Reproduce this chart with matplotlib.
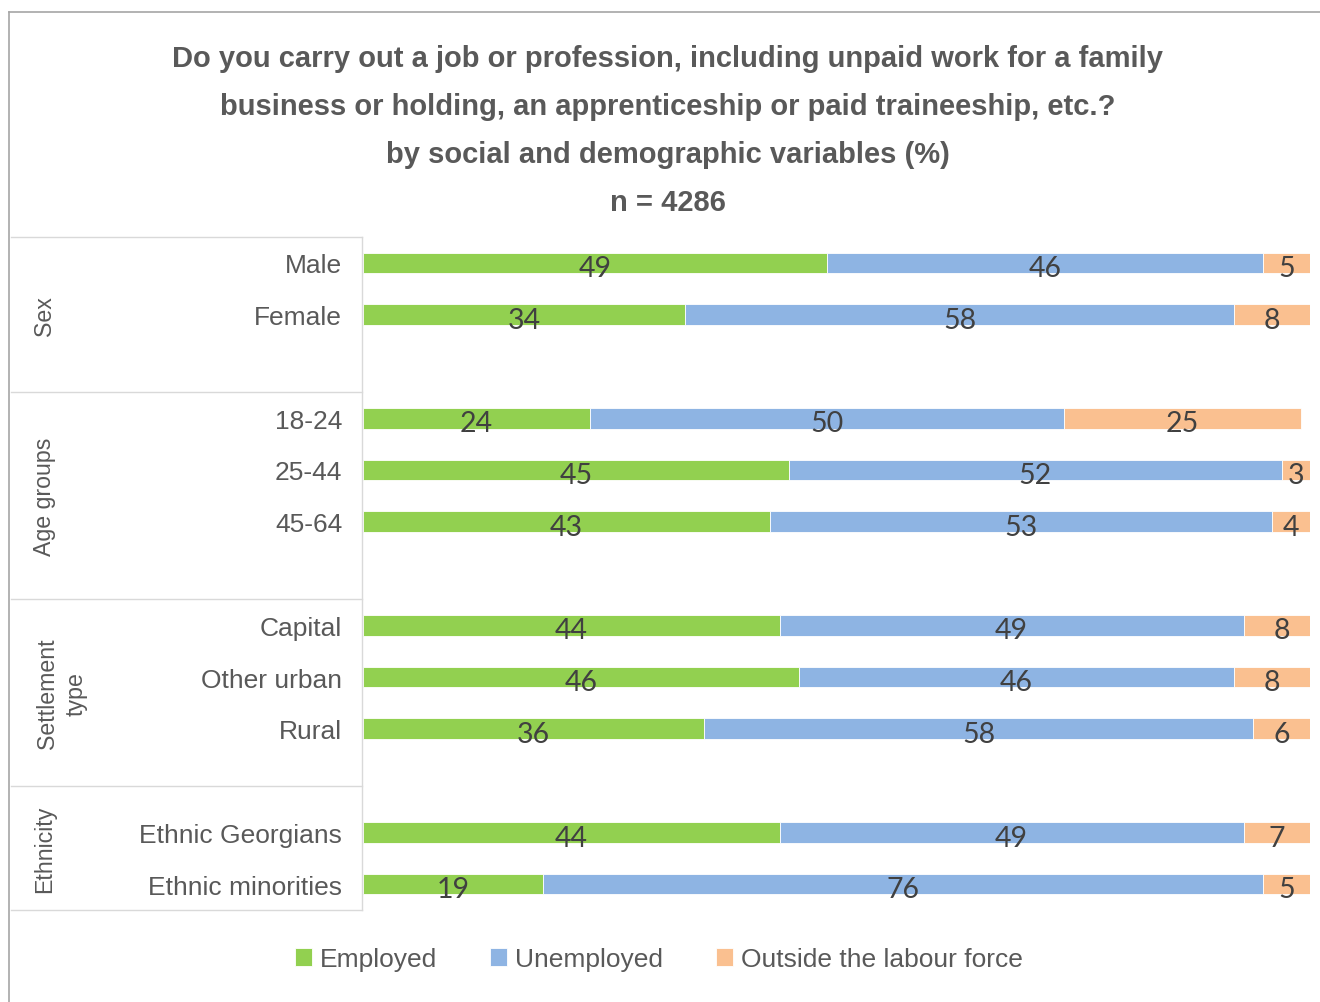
import numpy as np
import matplotlib.pyplot as plt
import matplotlib.transforms as mtransforms

################################################################################
## Data - employment status by social and demographic variables (%)
################################################################################

categories = ["Male", "Female", "18-24", "25-44", "45-64",
              "Capital", "Other urban", "Rural",
              "Ethnic Georgians", "Ethnic minorities"]
employed = [49, 34, 24, 45, 43, 44, 46, 36, 44, 19]
unemployed = [46, 58, 50, 52, 53, 49, 46, 58, 49, 76]
outside = [5, 8, 25, 3, 4, 8, 8, 6, 7, 5]

series_names = ["Employed", "Unemployed", "Outside the labour force"]
series_colors = ["#92D050", "#8EB4E3", "#FAC090"]

group_names = ["Sex", "Age groups", "Settlement\ntype", "Ethnicity"]
group_edges = [-0.5, 2.5, 6.5, 10.1, 12.5]

# row slots, with an empty slot between the groups
row_pos = [0, 1, 3, 4, 5, 7, 8, 9, 11, 12]

title_lines = [
    "Do you carry out a job or profession, including unpaid work for a family",
    "business or holding, an apprenticeship or paid traineeship, etc.?",
    "by social and demographic variables (%)",
    "n = 4286",
]

W, H = 1320, 1003
fig = plt.figure(figsize=(W / 100, H / 100), dpi=100)
ax = fig.add_axes([363 / W, 1 - 911 / H, 947 / W, 673 / H])

text_grey = "#595959"
line_grey = "#d9d9d9"

## Stacked bars
left = np.zeros(len(categories))
for vals, name, col in zip([employed, unemployed, outside], series_names, series_colors):
    vals = np.array(vals, dtype=float)
    ax.barh(row_pos, vals, left=left, height=0.4, color=col,
            edgecolor="white", linewidth=0.6, label=name)
    for y, l, v in zip(row_pos, left, vals):
        ax.text(l + v / 2, y + 0.1, f"{int(v)}", ha="center", va="center",
                fontsize=20.5, color="#404040", family="Lato")
    left += vals

ax.set_xlim(0, 100)
ax.set_ylim(12.5, -0.5)
ax.set_yticks(row_pos)
ax.set_yticklabels(categories, fontsize=19, color=text_grey, family="Liberation Sans")
ax.tick_params(axis="y", length=0, pad=15)
ax.set_xticks([])
for s in ax.spines.values():
    s.set_visible(False)

## Group boxes on the left
trans = mtransforms.blended_transform_factory(fig.transFigure, ax.transData)
for e in group_edges:
    ax.plot([11 / W, 362 / W], [e, e], transform=trans, color=line_grey,
            lw=1, clip_on=False)
ax.plot([362 / W, 362 / W], [group_edges[0], group_edges[-1]], transform=trans,
        color=line_grey, lw=1, clip_on=False)
for name, lo, hi in zip(group_names, group_edges[:-1], group_edges[1:]):
    xg = 62 / W if "\n" in name else 45 / W
    ax.text(xg, (lo + hi) / 2, name, transform=trans, rotation=90,
            ha="center", va="center", multialignment="center",
            fontsize=16.7, color=text_grey, family="Liberation Sans",
            linespacing=1.3)

## Outer frame (top and left edges)
fig.add_artist(plt.Line2D([9 / W, 9 / W], [0, 1 - 13 / H], transform=fig.transFigure,
                          color="#a6a6a6", lw=1.2))
fig.add_artist(plt.Line2D([9 / W, 1], [1 - 13 / H, 1 - 13 / H], transform=fig.transFigure,
                          color="#a6a6a6", lw=1.2))

## Title
for i, line in enumerate(title_lines):
    fig.text(668 / W, 1 - (59 + 48 * i) / H, line, ha="center", va="center",
             fontsize=21, fontweight="bold", color=text_grey, family="Liberation Sans")

## Legend
fig.legend(loc="center", bbox_to_anchor=(659 / W, 1 - 960 / H), ncol=3,
           frameon=False, prop={"family": "Liberation Sans", "size": 19},
           labelcolor=text_grey, handlelength=0.65, handleheight=0.65,
           handletextpad=0.3, columnspacing=2.0)

fig.savefig("out.png", dpi=100, facecolor="white")
